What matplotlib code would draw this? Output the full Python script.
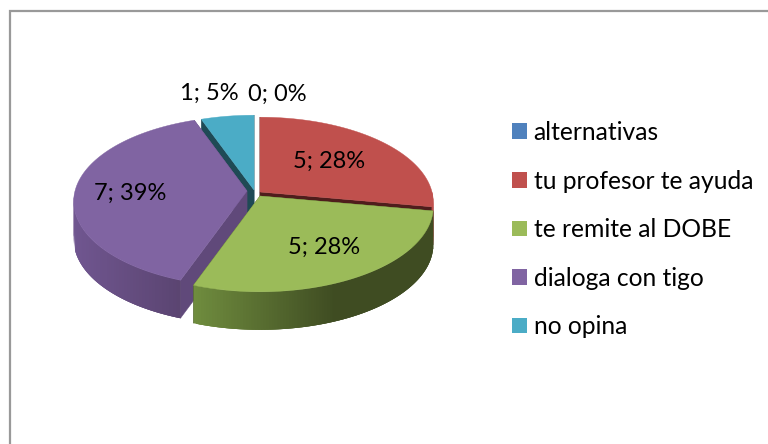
import numpy as np
import matplotlib
matplotlib.use('Agg')
import matplotlib.pyplot as plt
from matplotlib.patches import Polygon, Patch
from matplotlib.colors import to_rgb

plt.rcParams['font.family'] = ['Lato', 'DejaVu Sans']

# datos del grafico
labels = ['alternativas', 'tu profesor te ayuda', 'te remite al DOBE', 'dialoga con tigo', 'no opina']
values = [0, 5, 5, 7, 1]
percents = [0, 28, 28, 39, 5]
top_colors = ['#4f81bd', '#c0504d', '#9bbb59', '#8064a2', '#4bacc6']
edge_colors = ['#2a4564', '#4f1d1c', '#3f4d22', '#60497a', '#1f4a55']
wall_left = ['#4f81bd', '#c0504d', '#6f8c3e', '#705690', '#4bacc6']
wall_right = ['#4f81bd', '#c0504d', '#3f4c22', '#5a4470', '#4bacc6']
grad_width = [1, 1, 140, 108, 1]

# centro de cada porcion (pixeles), ya con la explosion
centers = [(256, 190), (260, 192), (260, 196), (247, 191), (254, 190)]
label_pos = [(277, 94), (329, 161), (324, 247), (130, 193), (209, 93)]

RX, RY, K, DEPTH = 172, 84, 0.123, 38


def project(c, ang):
    # perspectiva simple, el borde de atras se ve mas chico
    u, v = np.sin(ang), np.cos(ang)
    s = 1 / (1 + K * v)
    return c[0] + RX * u * s, c[1] - RY * v * s


fig = plt.figure(figsize=(7.68, 4.44), dpi=100)
ax = fig.add_axes([0, 0, 1, 1])
ax.set_xlim(0, 768)
ax.set_ylim(444, 0)
ax.axis('off')

# marco
ax.plot([9.5, 9.5, 768], [444, 11.5, 11.5], color='#999999', lw=1.6, solid_joinstyle='miter')

total = sum(values)
edges = np.radians(np.cumsum([0] + values) * 360 / total)

# caras interiores y laterales: atras primero
order = [4, 1, 3, 2]
for i in order:
    c = centers[i]
    a0, a1 = edges[i], edges[i + 1]
    th = np.linspace(a0, a1, 120)
    x, y = project(c, th)

    # paredes interiores
    for a in (a0, a1):
        px, py = project(c, a)
        wall = [(c[0], c[1]), (px, py), (px, py + DEPTH), (c[0], c[1] + DEPTH)]
        ax.add_patch(Polygon(wall, closed=True, fc=edge_colors[i], ec=edge_colors[i], lw=0.3))

    # pared exterior con degradado, de izquierda a derecha y solapada para que no se vean costuras
    left, right = np.array(to_rgb(wall_left[i])), np.array(to_rgb(wall_right[i]))
    vis = np.where(np.cos(th) <= 0.02)[0]
    vis = vis[np.argsort(x[vis])]
    for n, j in enumerate(vis[:-1]):
        t = min(1, (x[j] - x[vis[0]]) / grad_width[i])
        col = left + (right - left) * t
        idx = vis[n:n + 4]
        xs, ys = x[idx], y[idx]
        q = list(zip(xs, ys)) + list(zip(xs[::-1], ys[::-1] + DEPTH))
        ax.add_patch(Polygon(q, closed=True, fc=col, ec='none'))

    # cara de arriba
    top = [(c[0], c[1])] + list(zip(x, y))
    ax.add_patch(Polygon(top, closed=True, fc=top_colors[i], ec=top_colors[i], lw=0.3))

# etiquetas de datos
for i in range(len(values)):
    ax.text(label_pos[i][0], label_pos[i][1], f'{values[i]}; {percents[i]}%', fontsize=17,
            ha='center', va='center', color='black')

handles = [Patch(fc=col, ec='none') for col in top_colors]
ax.legend(handles, labels, loc='upper left', bbox_to_anchor=(512 / 768, 1 - 121 / 444), frameon=False,
          fontsize=17.7, handlelength=0.61, handleheight=0.61, handletextpad=0.27,
          labelspacing=1.04, borderpad=0, borderaxespad=0)

fig.savefig('out.png', dpi=100)
